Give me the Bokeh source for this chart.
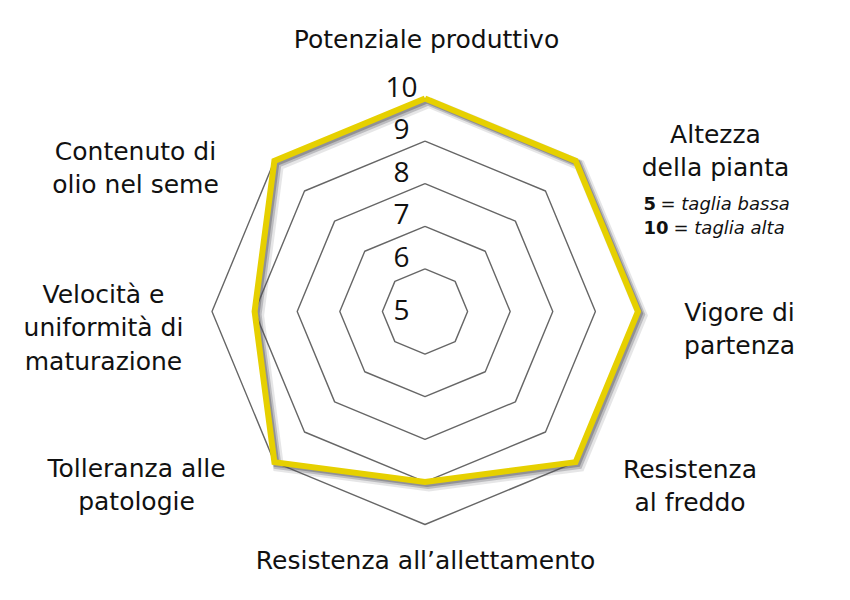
import numpy as np
from bokeh.plotting import figure
from bokeh.models import Range1d
from bokeh.core.properties import value
from bokeh.embed import file_html
from bokeh.resources import INLINE

# radar axes, clockwise from the top
categories = [
    "Potenziale produttivo",
    "Altezza della pianta",
    "Vigore di partenza",
    "Resistenza al freddo",
    "Resistenza all\u2019allettamento",
    "Tolleranza alle patologie",
    "Velocit\u00e0 e uniformit\u00e0 di maturazione",
    "Contenuto di olio nel seme",
]
scores = [10, 10, 10, 10, 9, 10, 9, 10]
levels = [5, 6, 7, 8, 9, 10]
tick_labels = ["5", "6", "7", "8", "9", "10"]
note_values = ["5", "10"]
note_texts = ["= taglia bassa", "= taglia alta"]

# layout (picture pixels): centre of the radar and pixels per level
CX, CY = 424.5, 311.0
STEP = 42.6
LABEL_FONT = value("DejaVu Sans")
NUM_FONT = value("Open Sans")
LABEL_PX = 25
NUM_PX = 28
NOTE_PX = 18
BASE_FIX = 0.37  # the svg text sits this many em below the asked baseline

# how each category label is broken and placed (x centre, first baseline)
label_lines = [
    ["Potenziale produttivo"],
    ["Altezza", "della pianta"],
    ["Vigore di", "partenza"],
    ["Resistenza", "al freddo"],
    ["Resistenza all\u2019allettamento"],
    ["Tolleranza alle", "patologie"],
    ["Velocit\u00e0 e", "uniformit\u00e0 di", "maturazione"],
    ["Contenuto di", "olio nel seme"],
]
label_pos = [(426, 48), (715, 143), (739, 321), (689.5, 478),
             (425, 569), (136, 477), (103, 303), (135, 160)]
LINE_H = 33.5


def dx(X):
    return X - CX


def dy(Y, px=0):
    return CY - Y + BASE_FIX * px


n = len(categories)
angles = np.pi / 2 - np.arange(n) * 2 * np.pi / n
base = min(levels)

p = figure(width=834, height=584, output_backend="svg", toolbar_location=None,
           x_range=Range1d(dx(0), dx(834)), y_range=Range1d(dy(584), dy(0)),
           min_border=0)
p.axis.visible = False
p.grid.visible = False
p.outline_line_color = None

# grid octagons
for lv in levels[1:]:
    r = (lv - base) * STEP
    xs = list(r * np.cos(angles)) + [r * np.cos(angles[0])]
    ys = list(r * np.sin(angles)) + [r * np.sin(angles[0])]
    p.line(xs, ys, line_color="#666666", line_width=1.4)

# score polygon with a soft drop shadow
rs = (np.array(scores) - base) * STEP
sx = list(rs * np.cos(angles)) + [rs[0] * np.cos(angles[0])]
sy = list(rs * np.sin(angles)) + [rs[0] * np.sin(angles[0])]
for off, w, a in [(4, 11, 0.14), (3, 8, 0.28), (2, 6, 0.4)]:
    p.line([x + off for x in sx], [y - off for y in sy], line_color="#505058",
           line_width=w, line_alpha=a, line_join="miter")
p.line(sx, sy, line_color="#E6D000", line_width=6, line_join="miter")

# level numbers
tx = [dx(401)] * len(levels)
ty = [(lv - base) * STEP + 1.5 if lv > base else -9 for lv in levels]
ty = [y + BASE_FIX * NUM_PX for y in ty]
p.text(tx, ty, text=tick_labels, text_font=NUM_FONT,
       text_font_size=f"{NUM_PX}px", text_align="center",
       text_baseline="alphabetic", text_color="#111111")

# category labels
lx, ly, lt = [], [], []
for lines, (X, Y) in zip(label_lines, label_pos):
    for i, t in enumerate(lines):
        lx.append(dx(X))
        ly.append(dy(Y + i * LINE_H, LABEL_PX))
        lt.append(t)
p.text(lx, ly, text=lt, text_font=LABEL_FONT, text_font_size=f"{LABEL_PX}px",
       text_align="center", text_baseline="alphabetic", text_color="#111111")

# note under "Altezza della pianta"
p.text([dx(643), dx(643)], [dy(210, NOTE_PX), dy(234, NOTE_PX)],
       text=note_values, text_font=LABEL_FONT, text_font_size=f"{NOTE_PX}px",
       text_font_style="bold", text_align="left", text_baseline="alphabetic",
       text_color="#111111")
p.text([dx(660), dx(673)], [dy(210, NOTE_PX), dy(234, NOTE_PX)],
       text=note_texts, text_font=LABEL_FONT, text_font_size=f"{NOTE_PX}px",
       text_font_style="italic", text_align="left", text_baseline="alphabetic",
       text_color="#111111")

open("out.html", "w").write(file_html(p, INLINE))
